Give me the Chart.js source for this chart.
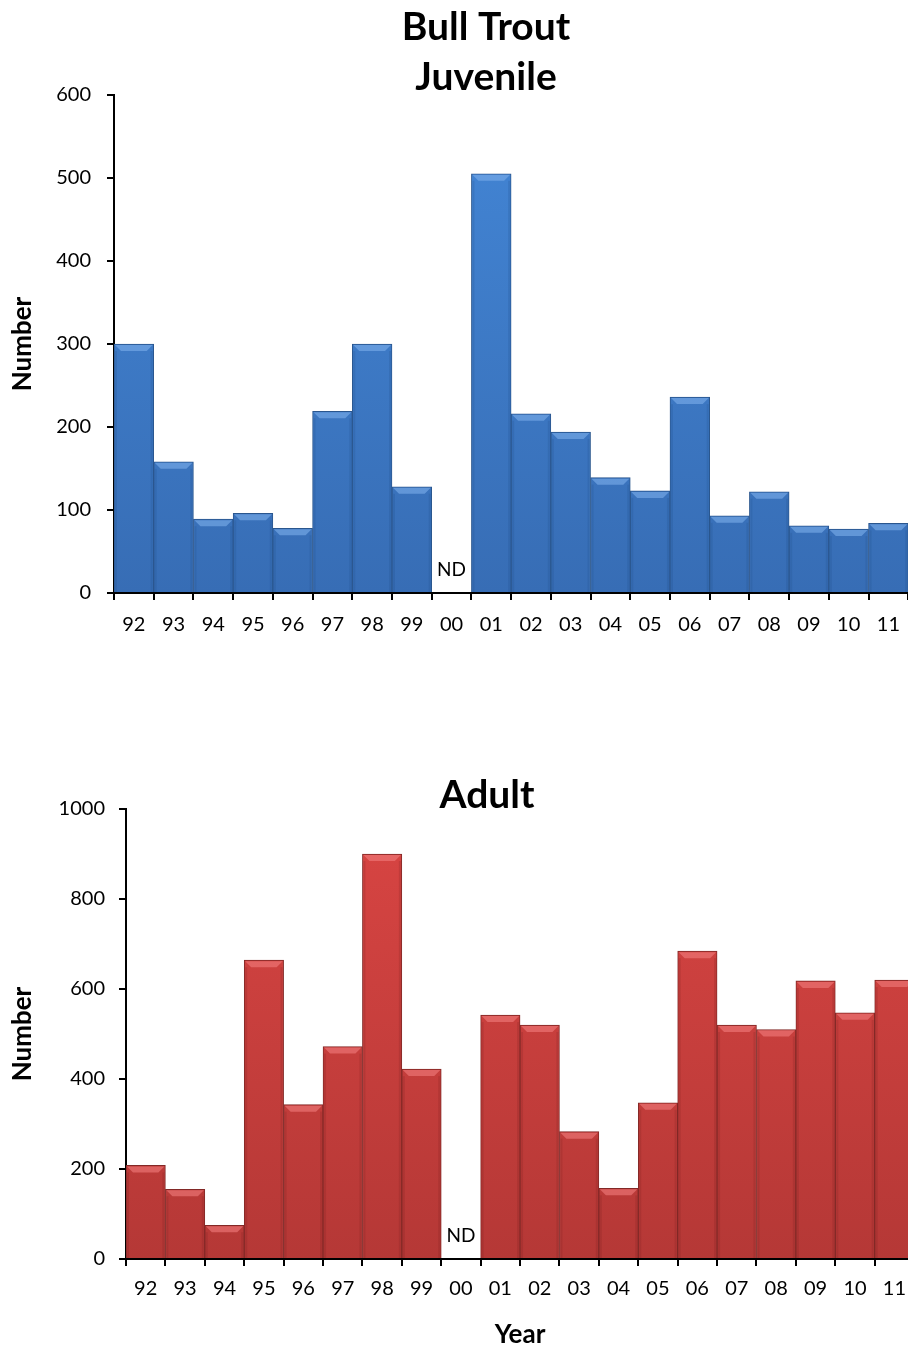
<!DOCTYPE html>
<html>
<head>
<meta charset="utf-8">
<script src="https://cdn.jsdelivr.net/npm/chart.js@4.4.0/dist/chart.umd.min.js"></script>
<style>
  body { margin: 0; background: #fff; overflow: hidden; }
  .box { position: absolute; left: 0; }
</style>
</head>
<body>
<div class="box" style="top:0"><canvas id="juvChart" width="913" height="660"></canvas></div>
<div class="box" style="top:700px"><canvas id="adultChart" width="917" height="651"></canvas></div>
<script>
// year labels along the bottom
const years = ['92', '93', '94', '95', '96', '97', '98', '99', '00', '01',
  '02', '03', '04', '05', '06', '07', '08', '09', '10', '11'];
// counts, null = no data (ND)
const juvenile = [300, 158, 89, 96, 78, 219, 300, 128, null, 505,
  216, 194, 139, 123, 236, 93, 122, 81, 77, 84];
const adult = [208, 155, 75, 664, 343, 472, 900, 422, null, 542,
  520, 283, 157, 347, 684, 520, 510, 618, 547, 620];
const juvTicks = [0, 100, 200, 300, 400, 500, 600];
const adultTicks = [0, 200, 400, 600, 800, 1000];

const FONT = 'Lato, "Open Sans", sans-serif';

// bevelled top edge like the office 3d bars
const bevelPlugin = {
  id: 'bevel',
  afterDatasetsDraw(chart, args, opts) {
    const ctx = chart.ctx;
    chart.getDatasetMeta(0).data.forEach((bar) => {
      const p = bar.getProps(['x', 'y', 'base', 'width'], true);
      if (isNaN(p.y) || p.base - p.y < 2) return;
      const l = p.x - p.width / 2 + 1, r = p.x + p.width / 2 - 1, t = p.y + 1;
      const b = 6;
      ctx.save();
      ctx.fillStyle = opts.light;
      ctx.beginPath();
      ctx.moveTo(l, t);
      ctx.lineTo(r, t);
      ctx.lineTo(r - b, t + b);
      ctx.lineTo(l + b, t + b);
      ctx.closePath();
      ctx.fill();
      ctx.fillStyle = opts.side;
      ctx.fillRect(l, t + b, 2, p.base - t - b);
      ctx.fillRect(r - 2, t + b, 2, p.base - t - b);
      ctx.restore();
    });
  }
};

// chart title lines and the ND note
const notePlugin = {
  id: 'notes',
  afterDraw(chart, args, opts) {
    const ctx = chart.ctx;
    ctx.save();
    ctx.fillStyle = '#000';
    ctx.textAlign = 'center';
    ctx.textBaseline = 'middle';
    ctx.font = 'bold 39px ' + FONT;
    opts.title.forEach((line, i) => {
      ctx.fillText(line, opts.titleX, opts.titleY + i * opts.titleGap);
    });
    const xs = chart.scales.x, ys = chart.scales.y;
    ctx.font = '19px ' + FONT;
    chart.data.datasets[0].data.forEach((v, i) => {
      if (v === null) {
        ctx.fillText('ND', xs.getPixelForValue(i), ys.getPixelForValue(0) - 23);
      }
    });
    ctx.restore();
  }
};

function barFill(top, bottom) {
  return (c) => {
    const area = c.chart.chartArea;
    if (!area) return top;
    const g = c.chart.ctx.createLinearGradient(0, area.top, 0, area.bottom);
    g.addColorStop(0, top);
    g.addColorStop(1, bottom);
    return g;
  };
}

function makeChart(id, values, ticks, maxY, cfg) {
  return new Chart(document.getElementById(id), {
    type: 'bar',
    data: {
      labels: years,
      datasets: [{
        data: values,
        backgroundColor: barFill(cfg.top, cfg.bottom),
        borderColor: cfg.border,
        borderWidth: 1,
        categoryPercentage: 1,
        barPercentage: 1
      }]
    },
    options: {
      responsive: false,
      animation: false,
      layout: { padding: { top: cfg.padTop, left: 0, right: 0, bottom: 0 } },
      plugins: {
        legend: { display: false },
        tooltip: { enabled: false },
        bevel: { light: cfg.light, side: cfg.side },
        notes: { title: cfg.title, titleX: cfg.titleX, titleY: cfg.titleY, titleGap: 50 }
      },
      scales: {
        x: {
          grid: { offset: true, drawOnChartArea: false, tickLength: 7, color: '#000', lineWidth: 2 },
          border: { color: '#000', width: 2 },
          ticks: { color: '#000', font: { family: FONT, size: 20 }, padding: cfg.xPad, maxRotation: 0, autoSkip: false },
          title: {
            display: !!cfg.xTitle,
            text: cfg.xTitle || '',
            color: '#000',
            font: { family: FONT, size: 26, weight: 'bold' },
            padding: { top: 0, bottom: 1 }
          },
          afterFit: (axis) => { axis.height = cfg.xHeight; }
        },
        y: {
          min: 0,
          max: maxY,
          afterBuildTicks: (axis) => { axis.ticks = ticks.map((v) => ({ value: v })); },
          grid: { drawOnChartArea: false, tickLength: 7, color: '#000', lineWidth: 2 },
          border: { color: '#000', width: 2 },
          ticks: {
            color: '#000',
            font: { family: FONT, size: 20 },
            padding: cfg.yPad,
            callback: (v) => String(v)
          },
          title: {
            display: true,
            text: 'Number',
            color: '#000',
            font: { family: FONT, size: 26, weight: 'bold' },
            padding: { top: 7, bottom: 0 }
          },
          afterFit: (axis) => { axis.width = cfg.yWidth; }
        }
      }
    },
    plugins: [bevelPlugin, notePlugin]
  });
}

makeChart('juvChart', juvenile, juvTicks, 600, {
  top: '#4386d6', bottom: '#376db5', border: '#2a568e',
  light: 'rgba(125,175,235,0.6)', side: 'rgba(30,70,130,0.18)',
  padTop: 95, yWidth: 114, xHeight: 67, xPad: 13, yPad: 16,
  title: ['Bull Trout', 'Juvenile'], titleX: 486, titleY: 27
});

makeChart('adultChart', adult, adultTicks, 1000, {
  top: '#d94543', bottom: '#b53836', border: '#822826',
  light: 'rgba(242,125,125,0.6)', side: 'rgba(110,25,25,0.18)',
  padTop: 109, yWidth: 126, xHeight: 92, xPad: 11, yPad: 14, xTitle: 'Year',
  title: ['Adult'], titleX: 487, titleY: 95
});
</script>
</body>
</html>
